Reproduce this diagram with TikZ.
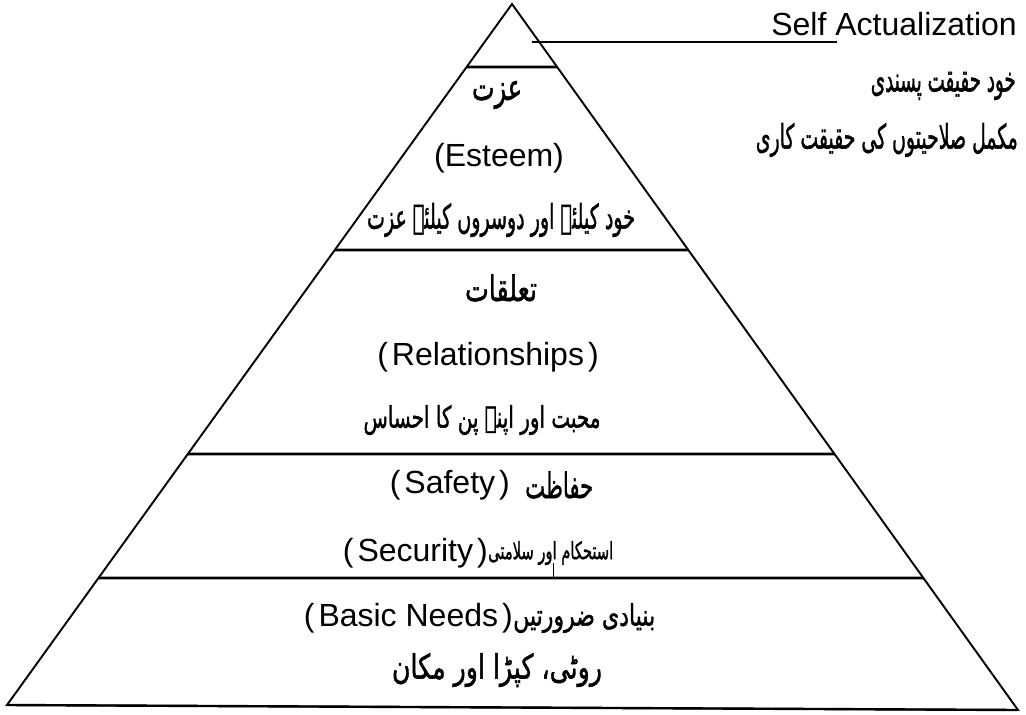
\documentclass[tikz,border=0pt]{standalone}
\usepackage{fontspec}
\setmainfont{Liberation Sans}
\newfontfamily\urdufont[Script=Arabic,FakeBold=1.5]{DejaVu Sans}
\TeXXeTstate=1
\usetikzlibrary{calc}
% a line of text fitted to a given width and total height
\newcommand{\fitwh}[3]{\resizebox*{#1pt}{#2pt}{#3}}
\newcommand{\pl}{\hspace{4pt}}

\begin{document}
\begin{tikzpicture}[x=1pt,y=-1pt,
  edge/.style={line width=1.9pt, line join=miter},
  divider/.style={line width=2.6pt},
  en/.style={font=\fontsize{32}{38}\selectfont, inner sep=0pt},
  urd/.style={font=\urdufont\fontsize{24}{30}\selectfont, inner sep=0pt}]
\useasboundingbox (0,0) rectangle (1026,715);

% pyramid outline
\coordinate (apex) at (512,4);
\coordinate (bl) at (7,705);
\coordinate (br) at (1018,710);
\draw[edge] (apex) -- (bl) -- (br) -- cycle;
\draw[line width=2.4pt] (bl) -- (br);

% horizontal dividers between the levels
\foreach \n/\tl/\tr in {1/0.0899/0.0892, 2/0.3509/0.3484, 3/0.6419/0.6374, 4/0.8188/0.8130}{
  \coordinate (d\n l) at ($(apex)!\tl!(bl)$);
  \coordinate (d\n r) at ($(apex)!\tr!(br)$);
  \draw[divider] (d\n l) -- (d\n r);
}

% top level label, outside the pyramid
\node[en, anchor=base east] (sa) at (1017,35) {Self Actualization};
\coordinate (saStart) at (532,42);
\coordinate (saEnd) at (837,42);
\draw[line width=2.4pt] (saStart) -- (saEnd);
\node[urd, anchor=east] (sa1) at (1016,86) {\fitwh{145}{28}{\urdufont\beginR خود حقیقت پسندی\endR}};
\node[urd, anchor=east] (sa2) at (1018,140) {\fitwh{262}{34}{\urdufont\beginR مکمل صلاحیتوں کی حقیقت کاری\endR}};

% esteem
\node[urd] (es1) at (497,95) {\fitwh{50}{28}{\urdufont\beginR عزت\endR}};
\node[en] (es2) at (499,158) {(Esteem)};
\node[urd] (es3) at (501,220) {\fitwh{268}{34}{\urdufont\beginR خود کیلئے اور دوسروں کیلئے عزت\endR}};

% relationships
\node[urd] (re1) at (501,288) {\fitwh{72}{27}{\urdufont\beginR تعلقات\endR}};
\node[en] (re2) at (488,357) {(\pl Relationships\pl)};
\node[urd] (re3) at (482,420) {\fitwh{237}{30}{\urdufont\beginR محبت اور اپنے پن کا احساس\endR}};

% safety and security
\node[en, anchor=east] (sf1) at (510,485) {(\pl Safety\pl)};
\node[urd, anchor=west] (sf2) at (525,485) {\fitwh{68}{27}{\urdufont\beginR حفاظت\endR}};
\node[en, anchor=east] (sc1) at (488,553) {(\pl Security\pl)};
\node[urd, anchor=west] (sc2) at (488,553) {\fitwh{125}{24}{\urdufont\beginR استحکام اور سلامتی\endR}};
\coordinate (tickTop) at (553,563);
\coordinate (tickBot) at (553,578);
\draw[line width=0.8pt] (tickTop) -- (tickBot);

% basic needs
\node[en, anchor=east] (bn1) at (513,618) {(\pl Basic Needs\pl)};
\node[urd, anchor=west] (bn2) at (513,618) {\fitwh{142}{30}{\urdufont\beginR بنیادی ضرورتیں\endR}};
\node[urd] (bn3) at (497,670) {\fitwh{210}{34}{\urdufont\beginR روٹی، کپڑا اور مکان\endR}};
\end{tikzpicture}
\end{document}
